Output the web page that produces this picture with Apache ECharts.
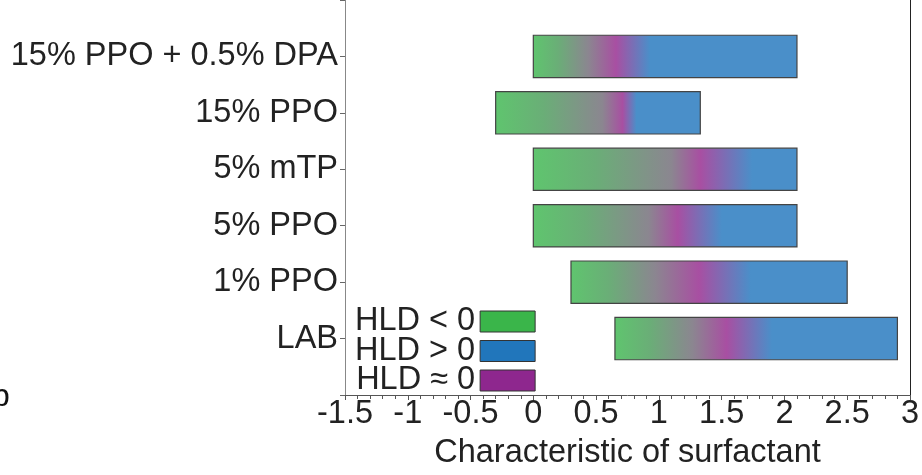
<!DOCTYPE html>
<html>
<head>
<meta charset="utf-8">
<script src="https://cdn.jsdelivr.net/npm/echarts@6/dist/echarts.min.js"></script>
<style>
  html, body { margin: 0; padding: 0; background: #fff; }
  #chart { width: 922px; height: 475px; }
</style>
</head>
<body>
<div id="chart"></div>
<script>
// Surfactant systems, bottom to top
const categories = ['LAB', '1% PPO', '5% PPO', '5% mTP', '15% PPO', '15% PPO + 0.5% DPA'];
// Range covered by each system on the characteristic axis
const rangeStart = [0.65, 0.3, 0, 0, -0.3, 0];
const rangeEnd = [2.9, 2.5, 2.1, 2.1, 1.33, 2.1];
// Transition points: green fades out, HLD ≈ 0 peak, HLD > 0 begins
const fadeStart = [1.27, 0.97, 0.92, 1.10, 0.55, 0.44];
const neutralPoint = [1.54, 1.32, 1.15, 1.33, 0.71, 0.66];
const positiveStart = [1.90, 1.73, 1.50, 1.74, 0.82, 0.93];
// Legend entries
const legendNames = ['HLD < 0', 'HLD > 0', 'HLD ≈ 0'];
const legendColors = ['#3ab54a', '#2176bb', '#8e278e'];

const FONT = '"Liberation Sans", Arial, sans-serif';
const FS = 32.5;
const yCats = [''].concat(categories, ['']);

const barData = categories.map((c, i) => [
  rangeStart[i], rangeEnd[i], i + 1, fadeStart[i], neutralPoint[i], positiveStart[i]
]);

function renderBar(params, api) {
  const s = api.value(0), e = api.value(1), idx = api.value(2);
  const g = api.value(3), p = api.value(4), b = api.value(5);
  const p0 = api.coord([s, idx]);
  const p1 = api.coord([e, idx]);
  const h = api.size([0, 1])[1] * 0.75;
  const f = v => Math.max(0, Math.min(1, (v - s) / (e - s)));
  const mid = s + 0.45 * (g - s);
  const fill = new echarts.graphic.LinearGradient(0, 0, 1, 0, [
    { offset: 0, color: '#5fc56e' },
    { offset: f(mid), color: '#6aae77' },
    { offset: f(g), color: '#8b8690' },
    { offset: f(p), color: '#a84fa2' },
    { offset: f(b), color: '#4a8fc9' },
    { offset: 1, color: '#4a8fc9' }
  ]);
  return {
    type: 'rect',
    shape: { x: p0[0], y: p0[1] - h / 2, width: p1[0] - p0[0], height: h },
    style: { fill: fill, stroke: '#444', lineWidth: 1.2 }
  };
}

const chart = echarts.init(document.getElementById('chart'), null, { renderer: 'canvas' });

const series = [{
  type: 'custom',
  renderItem: renderBar,
  data: barData,
  encode: { x: [0, 1], y: 2 },
  silent: true,
  z: 2
}].concat(legendNames.map((n, i) => ({
  type: 'bar', name: n, data: [], itemStyle: { color: legendColors[i] }
})));

chart.setOption({
  animation: false,
  backgroundColor: '#fff',
  grid: { left: 345, right: 10, top: -2, bottom: 77, containLabel: false },
  legend: {
    orient: 'vertical',
    left: 355, top: 305,
    align: 'right',
    icon: 'rect',
    itemWidth: 55, itemHeight: 21, itemGap: -3.5,
    padding: 0,
    data: legendNames,
    itemStyle: { borderColor: '#333', borderWidth: 1 },
    textStyle: { fontFamily: FONT, fontSize: FS, color: '#222' },
    selectedMode: false
  },
  xAxis: {
    type: 'value',
    min: -1.5, max: 3, interval: 0.5,
    name: 'Characteristic of surfactant',
    nameLocation: 'middle',
    nameGap: 42,
    nameTextStyle: { fontFamily: FONT, fontSize: 32.5, color: '#222' },
    axisLine: { show: true, lineStyle: { color: '#555', width: 1 } },
    axisTick: { show: true, length: 5, lineStyle: { color: '#555' } },
    minorTick: { show: true, splitNumber: 5, length: 4, lineStyle: { color: '#555' } },
    splitLine: { show: false },
    axisLabel: { fontFamily: FONT, fontSize: FS, color: '#222', margin: 3 }
  },
  yAxis: [{
    type: 'category',
    data: yCats,
    boundaryGap: false,
    axisLine: { show: true, onZero: false, lineStyle: { color: '#888', width: 1 } },
    axisTick: { show: true, length: 5, interval: 0, lineStyle: { color: '#666' } },
    axisLabel: { fontFamily: FONT, fontSize: FS, color: '#222', margin: 7, interval: 0 },
    splitLine: { show: false }
  }, {
    type: 'category',
    data: yCats,
    boundaryGap: false,
    position: 'right',
    axisLine: { show: true, onZero: false, lineStyle: { color: '#222', width: 1 } },
    axisTick: { show: false },
    axisLabel: { show: false },
    splitLine: { show: false }
  }],
  graphic: [{
    type: 'text',
    left: -8, top: 381,
    style: { text: 'b', fontFamily: FONT, fontSize: 32, fill: '#111' }
  }],
  series: series
});
</script>
</body>
</html>
